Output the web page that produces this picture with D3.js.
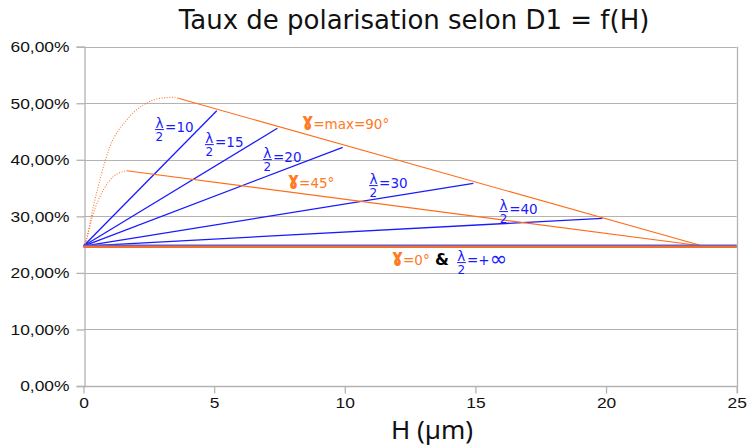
<!DOCTYPE html>
<html>
<head>
<meta charset="utf-8">
<script src="https://cdn.jsdelivr.net/npm/d3@7"></script>
<style>
  html, body { margin: 0; padding: 0; background: #fff; }
  svg { display: block; }
</style>
</head>
<body>
<svg id="chart" width="747" height="446"></svg>
<script>
// Degree of polarisation along D1 as a function of H (µm)
const xTicks = [0, 5, 10, 15, 20, 25];
const yTicks = [0, 0.1, 0.2, 0.3, 0.4, 0.5, 0.6];

const baseRate = 0.2475; // gamma = 0° and lambda/2 = +infinity

// gamma = max = 90°: rising (dotted) part, then straight envelope
const gamma90Rise = [[0, 0.2475], [0.06, 0.2523], [0.375, 0.3171], [1.01, 0.4232], [1.65, 0.4704], [2.29, 0.4969], [2.93, 0.5087], [3.5, 0.5105], [3.63, 0.5087]];
const gamma90Line = [[3.63, 0.5087], [23.7, 0.2475]];

// gamma = 45°
const gamma45Rise = [[0, 0.2475], [0.06, 0.2523], [0.375, 0.3054], [0.76, 0.3466], [1.14, 0.3701], [1.65, 0.3807]];
const gamma45Line = [[1.65, 0.3807], [23.7, 0.2475]];

// lambda/2 straight lines from the origin value up to the 90° envelope
const lambdaHalf = [10, 15, 20, 30, 40];
const lambdaEndH = [5.1, 7.42, 9.92, 14.92, 19.86];
const lambdaEndRate = [0.4868, 0.4557, 0.4221, 0.3584, 0.2965];

// label anchors (data units: H, rate)
const lambdaLabelH = [2.74, 4.65, 6.87, 10.93, 15.91];
const lambdaLabelRate = [0.4492, 0.4226, 0.3961, 0.3501, 0.3042];

const svg = d3.select("#chart");
const W = 747, H = 446;
const m = { left: 83.5, right: 10.3, top: 46.7, bottom: 60 };

const x = d3.scaleLinear().domain([0, 25]).range([m.left, W - m.right]);
const y = d3.scaleLinear().domain([0, 0.6]).range([H - m.bottom, m.top]);

const ORANGE = "#ff6d1a";
const ORANGE_TXT = "#ff7a22";
const BLUE = "#1a1aff";
const GRID = "#b3b3b3";

svg.append("rect").attr("width", W).attr("height", H).attr("fill", "#fff");

// horizontal grid lines
svg.append("g").selectAll("line").data(yTicks).join("line")
  .attr("x1", x(0)).attr("x2", x(25))
  .attr("y1", d => Math.round(y(d)) + 0.5).attr("y2", d => Math.round(y(d)) + 0.5)
  .attr("stroke", GRID).attr("stroke-width", 1);

// right frame line
svg.append("line")
  .attr("x1", Math.round(x(25)) + 0.5).attr("x2", Math.round(x(25)) + 0.5)
  .attr("y1", y(0.6)).attr("y2", y(0) + 7)
  .attr("stroke", GRID).attr("stroke-width", 1.3);

// axes
const TICKFONT = "'Liberation Sans', Arial, sans-serif";
const fmt = d => d3.format(".2f")(d * 100).replace(".", ",") + "%";
const yAxis = svg.append("g")
  .attr("transform", `translate(${Math.round(x(0)) + 0.5},0)`)
  .call(d3.axisLeft(y).tickValues(yTicks).tickFormat(fmt).tickSize(8).tickPadding(7));
const xAxis = svg.append("g")
  .attr("transform", `translate(0,${Math.round(y(0)) + 0.5})`)
  .call(d3.axisBottom(x).tickValues(xTicks).tickFormat(d3.format("d")).tickSize(7).tickPadding(4));

[yAxis, xAxis].forEach(a => {
  a.selectAll("path.domain").attr("stroke", GRID).attr("stroke-width", 1.3);
  a.selectAll(".tick line").attr("stroke", GRID).attr("stroke-width", 1.3);
  a.selectAll(".tick text").attr("fill", "#111")
    .style("font-family", TICKFONT).style("font-size", "15px")
    .each(function () {
      // tick labels are drawn slightly wide
      const w = this.getComputedTextLength();
      d3.select(this).attr("textLength", w * 1.16).attr("lengthAdjust", "spacingAndGlyphs");
    });
});
xAxis.select("path.domain").remove();
svg.append("line")
  .attr("x1", x(0)).attr("x2", x(25))
  .attr("y1", Math.round(y(0)) + 0.5).attr("y2", Math.round(y(0)) + 0.5)
  .attr("stroke", GRID).attr("stroke-width", 1.3);

const line = d3.line().x(d => x(d[0])).y(d => y(d[1]));
const smooth = d3.line().x(d => x(d[0])).y(d => y(d[1])).curve(d3.curveMonotoneX);

// lambda/2 lines
const plot = svg.append("g");
lambdaHalf.forEach((l, i) => {
  plot.append("path")
    .attr("d", line([[0, baseRate], [lambdaEndH[i], lambdaEndRate[i]]]))
    .attr("fill", "none").attr("stroke", BLUE).attr("stroke-width", 1.3);
});

// gamma curves
[gamma90Rise, gamma45Rise].forEach(pts => {
  plot.append("path").attr("d", smooth(pts))
    .attr("fill", "none").attr("stroke", ORANGE).attr("stroke-width", 1.1)
    .attr("stroke-dasharray", "1,1.6").attr("opacity", 0.9);
});
[gamma90Line, gamma45Line].forEach(pts => {
  plot.append("path").attr("d", line(pts))
    .attr("fill", "none").attr("stroke", ORANGE).attr("stroke-width", 1.1);
});

// base rate: gamma = 0° overlapping lambda/2 = +infinity
plot.append("path").attr("d", line([[0, baseRate], [25, baseRate]]))
  .attr("fill", "none").attr("stroke", "#5a5ad8").attr("stroke-width", 3.2);
plot.append("path").attr("d", line([[0, baseRate], [25, baseRate]]))
  .attr("fill", "none").attr("stroke", ORANGE).attr("stroke-width", 2)
  .attr("transform", "translate(0,0.6)");

// labels
const LF = "'DejaVu Sans', sans-serif";
function lambdaLabel(px, py, rest, bigTail) {
  // λ over 2, then the value
  const t = svg.append("text").attr("fill", BLUE).style("font-family", LF);
  t.append("tspan").attr("x", px + 0.3).attr("y", py - 4).style("font-size", "13.5px").text("λ");
  t.append("tspan").attr("x", px + 0.5).attr("y", py + 9).style("font-size", "12px").text("2");
  const r = t.append("tspan").attr("x", px + 10).attr("y", py).style("font-size", "13.5px").text(rest);
  if (bigTail) r.append("tspan").style("font-size", "21px").attr("dy", 1).text(bigTail);
  svg.append("line").attr("x1", px).attr("x2", px + 8.8).attr("y1", py - 2.4).attr("y2", py - 2.4)
    .attr("stroke", BLUE).attr("stroke-width", 1);
}
function gammaLabel(px, py, rest) {
  svg.append("text").attr("transform", `translate(${px},${py + 1}) scale(0.95,1.4)`)
    .attr("fill", ORANGE_TXT).style("font-family", LF)
    .style("font-weight", "bold").style("font-size", "18px").text("ɤ");
  svg.append("text").attr("x", px + 11).attr("y", py).attr("fill", ORANGE_TXT)
    .style("font-family", LF).style("font-size", "13.5px").text(rest);
}

lambdaHalf.forEach((l, i) => {
  lambdaLabel(x(lambdaLabelH[i]), y(lambdaLabelRate[i]), "=" + l);
});
gammaLabel(x(8.37), y(0.4545), "=max=90°");
gammaLabel(x(7.83), y(0.3501), "=45°");
gammaLabel(x(11.81), y(0.2140), "=0°");
svg.append("text").attr("x", x(11.81) + 43).attr("y", y(0.2140)).attr("fill", "#000")
  .style("font-family", LF).style("font-size", "16px").style("font-weight", "bold").text("&");
lambdaLabel(x(11.81) + 65, y(0.2140), "=+", "∞");

// titles
svg.append("text").attr("x", 414).attr("y", 29).attr("text-anchor", "middle")
  .style("font-family", LF).style("font-size", "26px").attr("fill", "#111")
  .text("Taux de polarisation selon D1 = f(H)");
svg.append("text").attr("x", 432).attr("y", 439).attr("text-anchor", "middle")
  .style("font-family", "'Noto Sans', sans-serif").style("font-size", "26px").attr("fill", "#111")
  .text("H (µm)");
</script>
</body>
</html>
